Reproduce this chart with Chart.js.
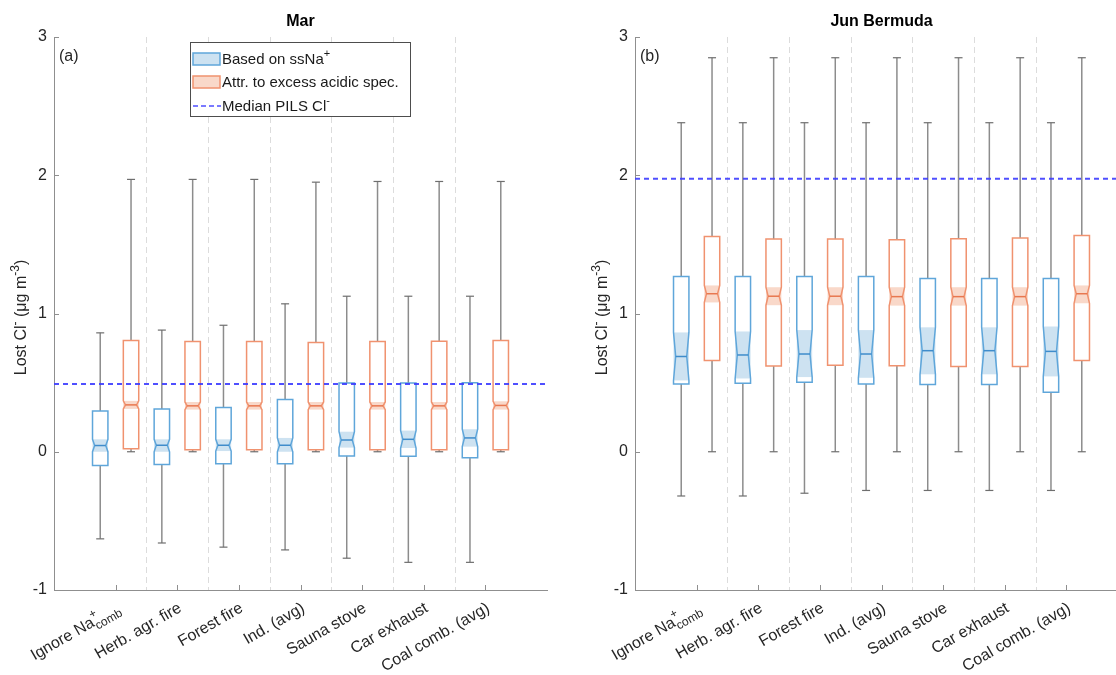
<!DOCTYPE html>
<html>
<head>
<meta charset="utf-8">
<title>Lost chloride</title>
<script src="https://cdn.jsdelivr.net/npm/chart.js@4.4.1/dist/chart.umd.min.js"></script>
<style>
  html, body { margin: 0; padding: 0; background: #fff; overflow: hidden; width: 1116px; height: 675px; }
  canvas { position: absolute; top: 0; }
  #marChart { left: 0; }
  #junChart { left: 581px; }
</style>
</head>
<body>
<canvas id="marChart" width="560" height="675"></canvas>
<canvas id="junChart" width="560" height="675"></canvas>
<script>
// source profiles on the x axis (TeX-like ^ and _ for scripts)
const sources = ['Ignore Na^+_{comb}', 'Herb. agr. fire', 'Forest fire', 'Ind. (avg)',
                 'Sauna stove', 'Car exhaust', 'Coal comb. (avg)'];
const yTicks = [-1, 0, 1, 2, 3];

// one row per source: [whisker low, q1, notch low, median, notch high, q3, whisker high]
const marSsNa = [
  [-0.63, -0.100, 0.000, 0.045, 0.090, 0.295, 0.86],
  [-0.66, -0.093, 0.000, 0.047, 0.090, 0.310, 0.88],
  [-0.69, -0.086, 0.005, 0.047, 0.090, 0.320, 0.915],
  [-0.71, -0.086, 0.000, 0.047, 0.100, 0.378, 1.07],
  [-0.77, -0.030, 0.030, 0.085, 0.145, 0.497, 1.125],
  [-0.80, -0.033, 0.027, 0.090, 0.153, 0.497, 1.125],
  [-0.80, -0.043, 0.037, 0.100, 0.163, 0.499, 1.125]
];
const marExcess = [
  [0.0, 0.022, 0.310, 0.339, 0.368, 0.805, 1.97],
  [0.0, 0.015, 0.305, 0.332, 0.360, 0.797, 1.97],
  [0.0, 0.015, 0.305, 0.332, 0.360, 0.797, 1.97],
  [0.0, 0.015, 0.305, 0.332, 0.360, 0.790, 1.95],
  [0.0, 0.015, 0.305, 0.332, 0.360, 0.797, 1.955],
  [0.0, 0.015, 0.305, 0.332, 0.360, 0.800, 1.955],
  [0.0, 0.015, 0.305, 0.335, 0.365, 0.805, 1.955]
];
const junSsNa = [
  [-0.32, 0.490, 0.516, 0.689, 0.863, 1.268, 2.38],
  [-0.32, 0.496, 0.530, 0.700, 0.870, 1.268, 2.38],
  [-0.30, 0.503, 0.540, 0.707, 0.880, 1.268, 2.38],
  [-0.28, 0.490, 0.535, 0.707, 0.880, 1.268, 2.38],
  [-0.28, 0.487, 0.560, 0.731, 0.900, 1.254, 2.38],
  [-0.28, 0.487, 0.560, 0.731, 0.900, 1.254, 2.38],
  [-0.28, 0.431, 0.545, 0.726, 0.906, 1.254, 2.38]
];
const junExcess = [
  [0.0, 0.660, 1.080, 1.143, 1.203, 1.557, 2.85],
  [0.0, 0.620, 1.060, 1.125, 1.190, 1.538, 2.85],
  [0.0, 0.625, 1.060, 1.125, 1.190, 1.538, 2.85],
  [0.0, 0.622, 1.057, 1.122, 1.190, 1.533, 2.85],
  [0.0, 0.616, 1.057, 1.122, 1.190, 1.541, 2.85],
  [0.0, 0.616, 1.057, 1.122, 1.190, 1.546, 2.85],
  [0.0, 0.660, 1.074, 1.143, 1.203, 1.565, 2.85]
];
const marPilsMedian = 0.49;
const junPilsMedian = 1.975;

const legendLabels = ['Based on ssNa^+', 'Attr. to excess acidic spec.', 'Median PILS Cl^-'];
const yTitle = 'Lost Cl^- (μg m^{-3})';

const FONT = '"Liberation Sans", Arial, Helvetica, sans-serif';
const TEXT = '#262626';
const AXIS = '#8f8f8f';
const PILS = 'rgba(60, 60, 255, 0.9)';
const ssNaStyle = { edge: '#5fa6da', fill: '#cde2f1', median: '#3f8ccb', shift: -0.5 };
const excessStyle = { edge: '#f0926f', fill: '#f9d8c9', median: '#e8774f', shift: 0.5 };

Chart.defaults.font.family = FONT;

// split 'Na^+_{comb}' into plain / sup / sub pieces
function texParts(s) {
  const parts = [];
  const re = /([\^_])(\{[^}]*\}|.)/g;
  let last = 0, m;
  while ((m = re.exec(s))) {
    if (m.index > last) parts.push({ t: s.slice(last, m.index), k: 'n' });
    parts.push({ t: m[2].replace(/[{}]/g, ''), k: m[1] === '^' ? 'sup' : 'sub' });
    last = re.lastIndex;
  }
  if (last < s.length) parts.push({ t: s.slice(last), k: 'n' });
  return parts;
}

function drawTex(ctx, s, x, y, size, align) {
  const parts = texParts(s);
  const small = Math.round(size * 0.72);
  let cx = 0;
  parts.forEach((p, i) => {
    ctx.font = `${p.k === 'n' ? size : small}px ${FONT}`;
    p.w = ctx.measureText(p.t).width;
    const prev = parts[i - 1];
    if (p.k !== 'n' && prev && prev.k !== 'n' && prev.k !== p.k) {
      // superscript and subscript stacked on the same spot
      p.x = prev.x;
      cx = Math.max(cx, p.x + p.w);
    } else {
      p.x = cx;
      cx += p.w;
    }
  });
  const x0 = align === 'right' ? x - cx : align === 'center' ? x - cx / 2 : x;
  ctx.textAlign = 'left';
  ctx.textBaseline = 'middle';
  parts.forEach(p => {
    ctx.font = `${p.k === 'n' ? size : small}px ${FONT}`;
    const dy = p.k === 'sup' ? -size * 0.42 : p.k === 'sub' ? size * 0.38 : 0;
    ctx.fillText(p.t, x0 + p.x, y + dy);
  });
}

function line(ctx, x1, y1, x2, y2) {
  ctx.beginPath();
  ctx.moveTo(x1, y1);
  ctx.lineTo(x2, y2);
  ctx.stroke();
}

function drawBox(ctx, x, y, pos, row, st) {
  const [lo, q1, nLo, med, nHi, q3, hi] = row;
  const cx = x.getPixelForValue(pos);
  const half = x.getPixelForValue(pos + 0.25) - cx;
  const pinch = half * 0.72;
  const cap = x.getPixelForValue(pos + 0.13) - cx;
  const Y = v => y.getPixelForValue(v);

  // whiskers and caps
  ctx.strokeStyle = '#8c8c8c';
  ctx.lineWidth = 1.5;
  line(ctx, cx, Y(q3), cx, Y(hi));
  line(ctx, cx, Y(q1), cx, Y(lo));
  ctx.strokeStyle = '#6e6e6e';
  ctx.lineWidth = 1.2;
  line(ctx, cx - cap, Y(hi), cx + cap, Y(hi));
  line(ctx, cx - cap, Y(lo), cx + cap, Y(lo));

  // shaded notch band
  const top = Y(Math.min(nHi, q3));
  const bot = Y(Math.max(nLo, q1));
  ctx.fillStyle = st.fill;
  ctx.fillRect(cx - half, top, 2 * half, bot - top);

  // notched outline
  ctx.beginPath();
  ctx.moveTo(cx - half, Y(q3));
  ctx.lineTo(cx + half, Y(q3));
  ctx.lineTo(cx + half, Y(nHi));
  ctx.lineTo(cx + pinch, Y(med));
  ctx.lineTo(cx + half, Y(nLo));
  ctx.lineTo(cx + half, Y(q1));
  ctx.lineTo(cx - half, Y(q1));
  ctx.lineTo(cx - half, Y(nLo));
  ctx.lineTo(cx - pinch, Y(med));
  ctx.lineTo(cx - half, Y(nHi));
  ctx.closePath();
  ctx.strokeStyle = st.edge;
  ctx.lineWidth = 1.5;
  ctx.stroke();

  ctx.strokeStyle = st.median;
  line(ctx, cx - pinch, Y(med), cx + pinch, Y(med));
}

function boxPlugin(cfg) {
  return {
    id: 'notchedBoxes',
    beforeDatasetsDraw(chart) {
      const { ctx, chartArea: area, scales: { x, y } } = chart;
      ctx.save();
      // dashed separators between sources
      ctx.strokeStyle = '#dcdcdc';
      ctx.lineWidth = 1;
      ctx.setLineDash([6, 4]);
      for (let i = 1; i < sources.length; i++) {
        const px = Math.round(x.getPixelForValue(2 * i + 1)) + 0.5;
        line(ctx, px, area.top, px, area.bottom);
      }
      ctx.setLineDash([]);

      // inward tick marks
      ctx.strokeStyle = AXIS;
      ctx.lineWidth = 1;
      yTicks.forEach(v => {
        const py = Math.round(y.getPixelForValue(v)) + 0.5;
        line(ctx, area.left, py, area.left + 5, py);
      });
      sources.forEach((s, i) => {
        const px = Math.round(x.getPixelForValue(2 * (i + 1))) + 0.5;
        line(ctx, px, area.bottom, px, area.bottom - 5);
      });

      cfg.series.forEach(({ rows, style }) => {
        rows.forEach((row, i) => drawBox(ctx, x, y, 2 * (i + 1) + style.shift, row, style));
      });
      ctx.restore();
    },
    afterDraw(chart) {
      const { ctx, chartArea: area, scales: { x } } = chart;
      ctx.save();
      ctx.fillStyle = '#000';
      ctx.font = `bold 16px ${FONT}`;
      ctx.textAlign = 'center';
      ctx.textBaseline = 'middle';
      ctx.fillText(cfg.title, (area.left + area.right) / 2, 22);

      ctx.fillStyle = TEXT;
      ctx.font = `16px ${FONT}`;
      ctx.textAlign = 'left';
      ctx.fillText(cfg.tag, area.left + 5, 57);

      // y axis title
      ctx.save();
      ctx.translate(22, (area.top + area.bottom) / 2 + 4);
      ctx.rotate(-Math.PI / 2);
      drawTex(ctx, yTitle, 0, 0, 16, 'center');
      ctx.restore();

      // rotated source labels
      sources.forEach((s, i) => {
        ctx.save();
        ctx.translate(x.getPixelForValue(2 * (i + 1)) + 3, area.bottom + 17);
        ctx.rotate(-Math.PI / 6);
        drawTex(ctx, s, 0, 0, 16, 'right');
        ctx.restore();
      });

      if (cfg.legend) {
        const lx = 190.5, ly = 42.5, lw = 220, lh = 74;
        ctx.fillStyle = '#fff';
        ctx.fillRect(lx, ly, lw, lh);
        ctx.strokeStyle = '#4d4d4d';
        ctx.lineWidth = 1;
        ctx.strokeRect(lx, ly, lw, lh);
        const rowsY = [59, 82, 106];
        [ssNaStyle, excessStyle].forEach((st, i) => {
          ctx.fillStyle = st.fill;
          ctx.fillRect(193, rowsY[i] - 6, 27, 12);
          ctx.strokeStyle = st.edge;
          ctx.lineWidth = 1.5;
          ctx.strokeRect(193, rowsY[i] - 6, 27, 12);
        });
        ctx.strokeStyle = PILS;
        ctx.lineWidth = 1.5;
        ctx.setLineDash([5, 3]);
        line(ctx, 193, rowsY[2], 221, rowsY[2]);
        ctx.setLineDash([]);
        ctx.fillStyle = '#1a1a1a';
        legendLabels.forEach((t, i) => drawTex(ctx, t, 222, rowsY[i] + 1, 15, 'left'));
      }
      ctx.restore();
    }
  };
}

function makeChart(id, cfg) {
  return new Chart(document.getElementById(id), {
    type: 'scatter',
    data: {
      datasets: [{
        type: 'line',
        label: 'Median PILS Cl-',
        data: [{ x: 0, y: cfg.pils }, { x: 16, y: cfg.pils }],
        borderColor: PILS,
        borderWidth: 2,
        borderDash: [5, 4],
        pointRadius: 0,
        fill: false
      }]
    },
    options: {
      responsive: false,
      animation: false,
      layout: { padding: { top: 37, right: 13, left: 0, bottom: 0 } },
      plugins: { legend: { display: false }, tooltip: { enabled: false } },
      scales: {
        x: {
          type: 'linear',
          min: 0,
          max: 16,
          ticks: { display: false },
          grid: { display: false, drawTicks: false },
          border: { display: true, color: AXIS, width: 1 },
          afterFit: s => { s.height = 85; }
        },
        y: {
          min: -1,
          max: 3,
          ticks: { stepSize: 1, color: TEXT, font: { size: 16 }, padding: 7 },
          grid: { display: false, drawTicks: false },
          border: { display: true, color: AXIS, width: 1 },
          afterFit: s => { s.width = 54; }
        }
      }
    },
    plugins: [boxPlugin(cfg)]
  });
}

makeChart('marChart', {
  title: 'Mar', tag: '(a)', legend: true, pils: marPilsMedian,
  series: [{ rows: marSsNa, style: ssNaStyle }, { rows: marExcess, style: excessStyle }]
});
makeChart('junChart', {
  title: 'Jun Bermuda', tag: '(b)', legend: false, pils: junPilsMedian,
  series: [{ rows: junSsNa, style: ssNaStyle }, { rows: junExcess, style: excessStyle }]
});
</script>
</body>
</html>
